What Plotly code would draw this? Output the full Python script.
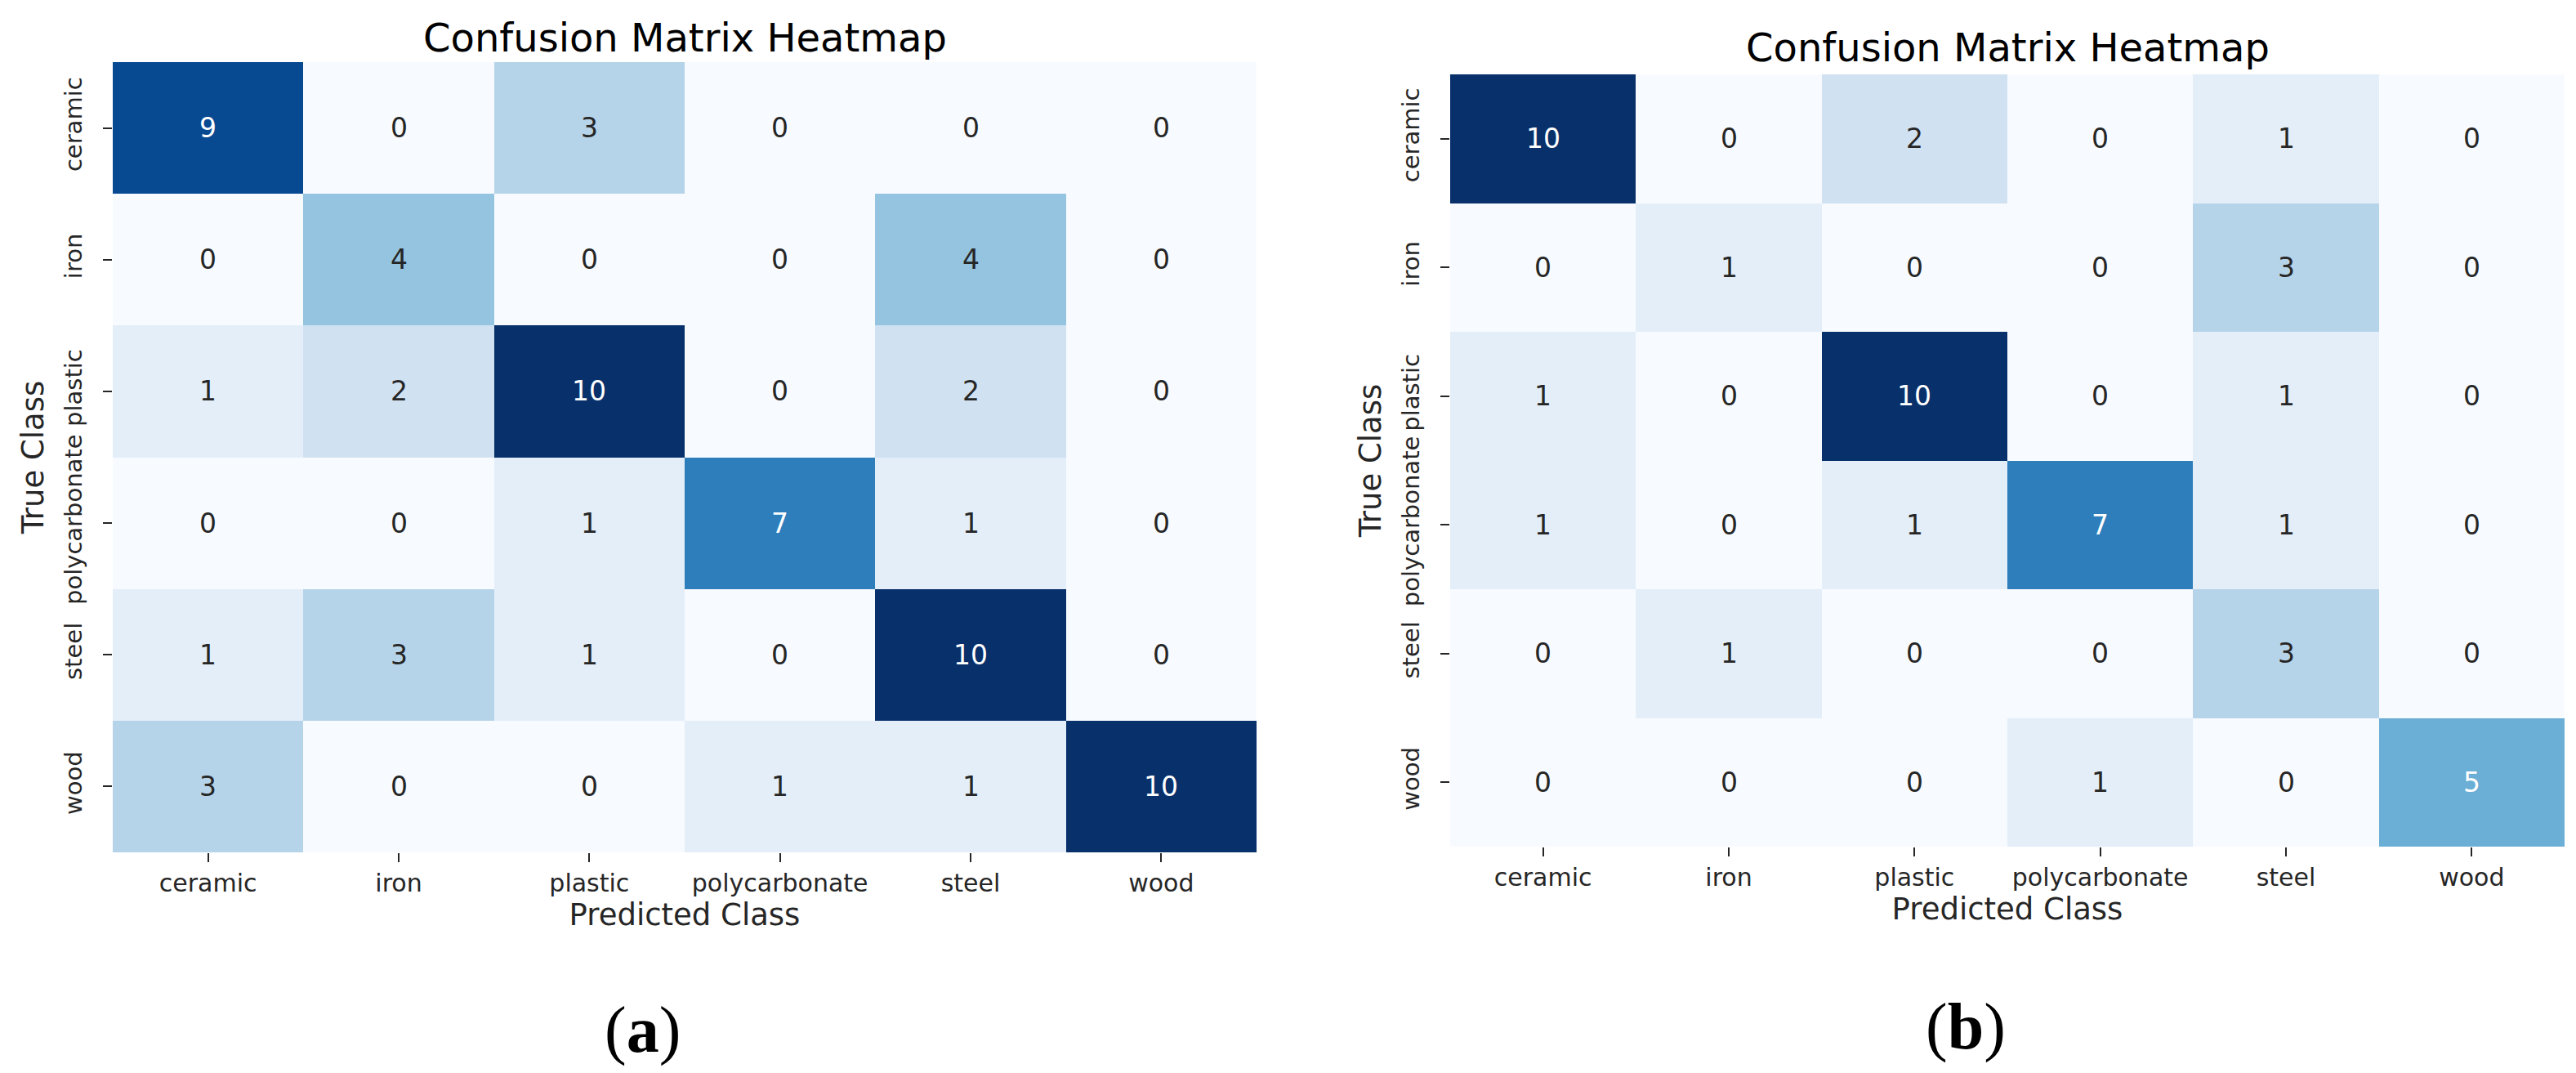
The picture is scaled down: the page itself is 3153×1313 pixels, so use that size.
import plotly.graph_objects as go

classes = ["ceramic", "iron", "plastic", "polycarbonate", "steel", "wood"]

cm_a = [
    [9, 0, 3, 0, 0, 0],
    [0, 4, 0, 0, 4, 0],
    [1, 2, 10, 0, 2, 0],
    [0, 0, 1, 7, 1, 0],
    [1, 3, 1, 0, 10, 0],
    [3, 0, 0, 1, 1, 10],
]

cm_b = [
    [10, 0, 2, 0, 1, 0],
    [0, 1, 0, 0, 3, 0],
    [1, 0, 10, 0, 1, 0],
    [1, 0, 1, 7, 1, 0],
    [0, 1, 0, 0, 3, 0],
    [0, 0, 0, 1, 0, 5],
]

title_text = "Confusion Matrix Heatmap"
xlabel = "Predicted Class"
ylabel = "True Class"
panel_labels = ["(<b>a</b>)", "(<b>b</b>)"]

# matplotlib "Blues" anchor colours
blues_hex = ["#f7fbff", "#deebf7", "#c6dbef", "#9ecae1", "#6baed6",
             "#4292c6", "#2171b5", "#08519c", "#08306b"]
colorscale = [[i / (len(blues_hex) - 1), c] for i, c in enumerate(blues_hex)]

FONT = "DejaVu Sans"
W, H = 3153, 1313


def hex_rgb(h):
    h = h.lstrip("#")
    return [int(h[i:i + 2], 16) / 255 for i in (0, 2, 4)]


def cmap(t):
    t = min(max(t, 0.0), 1.0)
    n = len(blues_hex) - 1
    i = min(int(t * n), n - 1)
    f = t * n - i
    a, b = hex_rgb(blues_hex[i]), hex_rgb(blues_hex[i + 1])
    return [a[k] + (b[k] - a[k]) * f for k in range(3)]


def luminance(rgb):
    lin = [c / 12.92 if c <= 0.03928 else ((c + 0.055) / 1.055) ** 2.4 for c in rgb]
    return 0.2126 * lin[0] + 0.7152 * lin[1] + 0.0722 * lin[2]


fig = go.Figure()

panels = [
    dict(z=cm_a, xa="x", ya="y", xd=(130 / W, 1530 / W), yd=(1 - 1035 / H, 1 - 68 / H),
         title_y=1 - 38 / H, lab_x=778 / W, lab_y=1 - 1252 / H),
    dict(z=cm_b, xa="x2", ya="y2", xd=(1767 / W, 3131 / W), yd=(1 - 1028 / H, 1 - 83 / H),
         title_y=1 - 50 / H, lab_x=2398 / W, lab_y=1 - 1248 / H),
]

annotations = []
for k, p in enumerate(panels):
    z = p["z"]
    vmax = max(max(r) for r in z)
    fig.add_trace(go.Heatmap(
        z=z, x=classes, y=classes, xaxis=p["xa"], yaxis=p["ya"],
        colorscale=colorscale, zmin=0, zmax=vmax, showscale=False,
        hoverinfo="skip",
    ))
    for i, row in enumerate(z):
        for j, v in enumerate(row):
            col = "#ffffff" if luminance(cmap(v / vmax)) < 0.408 else "#262626"
            annotations.append(dict(
                x=classes[j], y=classes[i], xref=p["xa"], yref=p["ya"],
                text=str(v), showarrow=False,
                font=dict(family=FONT, size=33, color=col),
            ))
    annotations.append(dict(
        x=(p["xd"][0] + p["xd"][1]) / 2, y=p["title_y"], xref="paper", yref="paper",
        text=title_text, showarrow=False, xanchor="center", yanchor="middle",
        font=dict(family=FONT, size=48, color="#000000"),
    ))
    annotations.append(dict(
        x=p["lab_x"], y=p["lab_y"], xref="paper", yref="paper",
        text=panel_labels[k], showarrow=False, xanchor="center", yanchor="middle",
        font=dict(family="Liberation Serif", size=80, color="#000000"),
    ))

axis_common = dict(
    showgrid=False, zeroline=False, showline=False,
    ticks="outside", ticklen=11, tickwidth=2, tickcolor="#262626",
    automargin=False,
)
xtick_font = dict(family=FONT, size=30, color="#262626")
ytick_font = dict(family=FONT, size=29, color="#262626")
title_font = dict(family=FONT, size=37, color="#262626")

fig.update_layout(
    width=W, height=H,
    margin=dict(l=0, r=0, t=0, b=0, autoexpand=False),
    paper_bgcolor="white", plot_bgcolor="white",
    annotations=annotations,
    xaxis=dict(domain=panels[0]["xd"], anchor="y", tickfont=xtick_font, **axis_common,
               title=dict(text=xlabel, font=title_font, standoff=8)),
    yaxis=dict(domain=panels[0]["yd"], anchor="x", autorange="reversed", tickangle=-90,
               ticklabelstandoff=14, tickfont=ytick_font, **axis_common,
               title=dict(text=ylabel, font=title_font, standoff=8)),
    xaxis2=dict(domain=panels[1]["xd"], anchor="y2", tickfont=xtick_font, **axis_common,
                title=dict(text=xlabel, font=title_font, standoff=8)),
    yaxis2=dict(domain=panels[1]["yd"], anchor="x2", autorange="reversed", tickangle=-90,
                ticklabelstandoff=14, tickfont=ytick_font, **axis_common,
                title=dict(text=ylabel, font=title_font, standoff=8)),
)

fig.write_html("out.html")
